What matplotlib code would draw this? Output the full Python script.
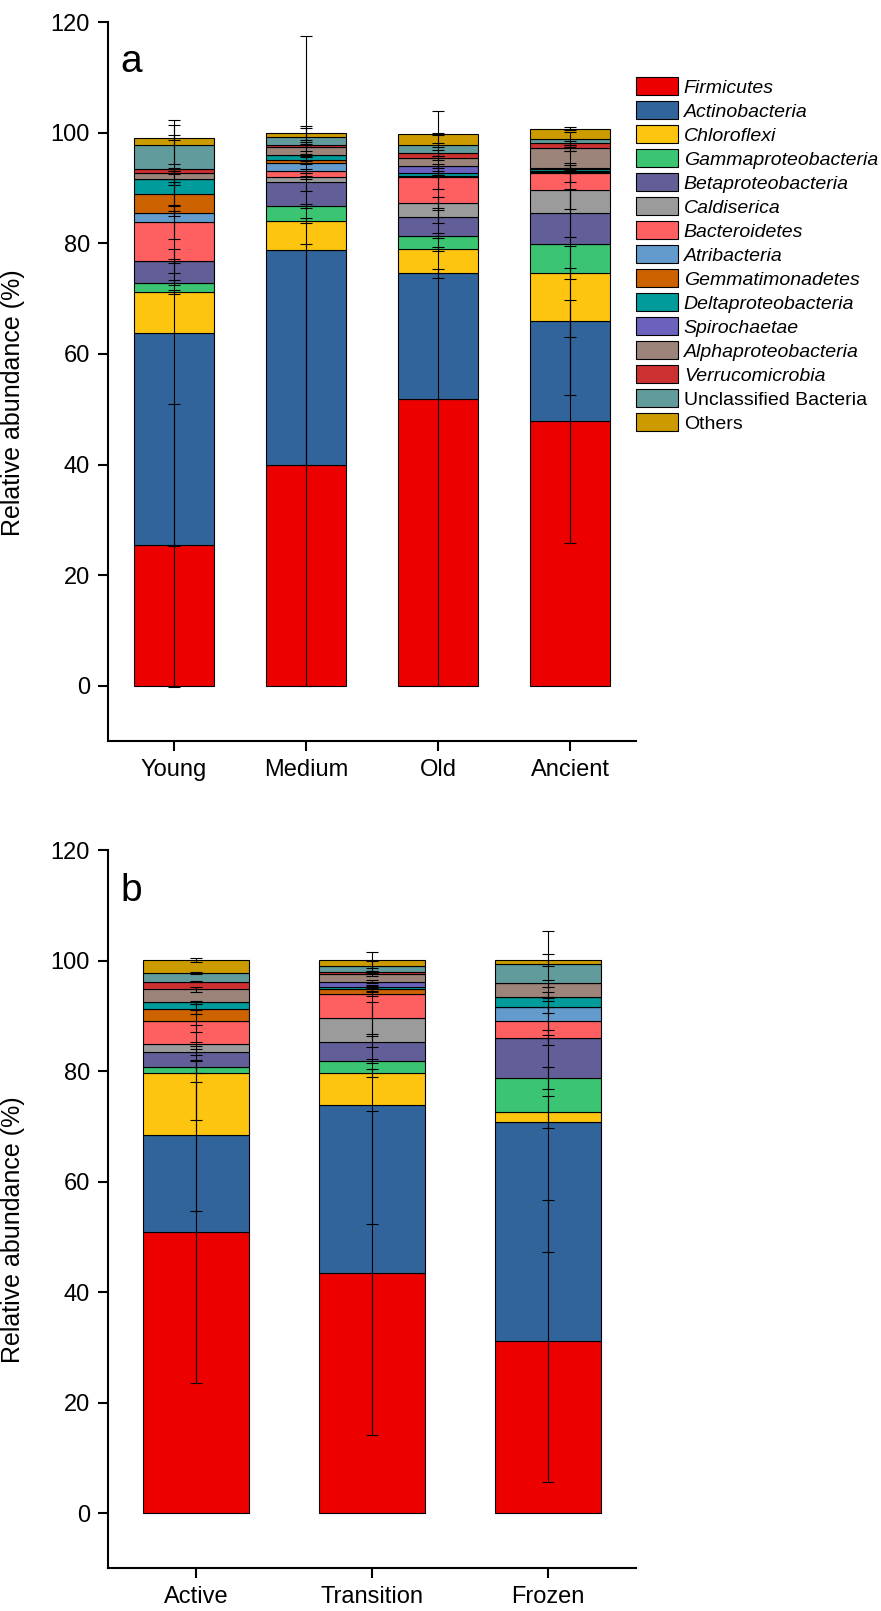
import numpy as np
import matplotlib
matplotlib.use('Agg')
import matplotlib.pyplot as plt

plt.rcParams['font.family'] = 'Liberation Sans'

# taxa, bottom of the stack first
phyla = ['Firmicutes', 'Actinobacteria', 'Chloroflexi', 'Gammaproteobacteria',
         'Betaproteobacteria', 'Caldiserica', 'Bacteroidetes', 'Atribacteria',
         'Gemmatimonadetes', 'Deltaproteobacteria', 'Spirochaetae',
         'Alphaproteobacteria', 'Verrucomicrobia', 'Unclassified Bacteria', 'Others']
colors = ['#ec0000', '#31649b', '#fdc50f', '#3bc572', '#625f98', '#9b9b9b',
          '#fe6061', '#629bcc', '#cc6200', '#009b9b', '#6a62bc', '#9c847a',
          '#cc3131', '#629b9b', '#cc9b00']

# (a) permafrost age groups: mean relative abundance (%), one row per taxon
age_groups = ['Young', 'Medium', 'Old', 'Ancient']
age_abund = [
    [25.4, 39.9, 51.9, 47.8],
    [38.4, 38.8, 22.7, 18.2],
    [7.4, 5.4, 4.4, 8.6],
    [1.7, 2.6, 2.4, 5.3],
    [3.9, 4.4, 3.4, 5.6],
    [0.0, 0.8, 2.5, 4.2],
    [7.1, 1.2, 4.6, 3.1],
    [1.5, 1.5, 0.2, 0.1],
    [3.5, 0.5, 0.1, 0.1],
    [2.7, 0.8, 0.5, 0.5],
    [0.0, 0.1, 1.3, 0.1],
    [1.2, 1.5, 1.4, 3.6],
    [0.6, 0.2, 0.9, 0.9],
    [4.4, 1.6, 1.5, 0.7],
    [1.3, 0.6, 2.0, 1.9],
]
age_sd = [
    [25.6, 39.9, 52.0, 21.9],
    [38.5, 38.8, 0.8, 13.5],
    [0.4, 0.4, 0.4, 1.0],
    [0.4, 0.4, 0.4, 16.8],
    [2.2, 1.6, 1.2, 4.3],
    [0.3, 0.2, 1.0, 3.5],
    [3.1, 0.3, 2.0, 1.8],
    [0.4, 0.3, 0.1, 0.1],
    [2.1, 0.6, 0.1, 0.1],
    [1.1, 0.3, 0.3, 0.7],
    [0.0, 0.0, 0.3, 0.1],
    [0.3, 0.9, 0.3, 0.5],
    [0.3, 0.2, 0.6, 0.4],
    [3.5, 1.5, 0.4, 1.4],
    [0.5, 1.3, 0.2, 0.3],
]

# (b) active layer / transition zone / permafrost
states = ['Active', 'Transition', 'Frozen']
state_abund = [
    [50.8, 43.5, 31.1],
    [17.6, 30.4, 39.7],
    [11.3, 5.8, 1.8],
    [1.0, 2.2, 6.1],
    [2.8, 3.4, 7.4],
    [1.4, 4.3, 0.0],
    [4.2, 4.4, 3.0],
    [0.0, 0.0, 2.5],
    [2.2, 0.8, 0.0],
    [1.2, 0.5, 1.8],
    [0.0, 0.9, 0.0],
    [2.3, 1.4, 2.5],
    [1.4, 0.3, 0.0],
    [1.6, 1.2, 3.5],
    [2.3, 1.0, 0.8],
]
state_sd = [
    [27.2, 29.3, 25.5],
    [13.7, 21.5, 23.5],
    [8.6, 0.7, 2.9],
    [1.1, 0.4, 2.0],
    [0.6, 1.0, 1.3],
    [0.4, 2.9, 0.0],
    [2.0, 0.4, 2.6],
    [0.0, 0.0, 1.1],
    [0.9, 0.3, 0.0],
    [0.3, 0.3, 0.1],
    [0.0, 0.3, 0.0],
    [0.4, 0.4, 0.7],
    [0.1, 0.2, 0.0],
    [0.2, 0.9, 5.9],
    [0.4, 1.4, 1.1],
]


def plot_stacked(ax, groups, abund, sd, tag):
    abund = np.array(abund)
    sd = np.array(sd)
    x = np.arange(1, len(groups) + 1)
    bottom = np.zeros(len(groups))
    handles = []
    for i, name in enumerate(phyla):
        b = ax.bar(x, abund[i], 0.6, bottom=bottom, color=colors[i],
                   edgecolor='black', linewidth=0.8, label=name, zorder=2)
        handles.append(b)
        bottom = bottom + abund[i]
        # each layer gets its own error bar at the top of the stack so far
        keep = sd[i] > 0
        ax.errorbar(x[keep], bottom[keep], yerr=sd[i][keep], fmt='none',
                    ecolor='black', elinewidth=0.8, capsize=4.3,
                    capthick=0.8, zorder=3)

    ax.set_xlim(0.5, len(groups) + 0.5)
    ax.set_ylim(-10, 120)
    ax.set_yticks(range(0, 121, 20))
    ax.set_xticks(x)
    ax.set_xticklabels(groups)
    ax.spines[['top', 'right']].set_visible(False)
    ax.spines[['left', 'bottom']].set_linewidth(1.5)
    ax.tick_params(direction='out', length=7, width=1.5, labelsize=17, pad=6)
    ax.set_ylabel('Relative abundance (%)', fontsize=18)
    ax.yaxis.set_label_coords(-0.157, 0.471)
    ax.text(0.023, 0.93, tag, transform=ax.transAxes, fontsize=28)
    return handles


fig = plt.figure(figsize=(8.81, 16.11), dpi=100)
ax_a = fig.add_axes([0.1226, 0.540, 0.5993, 0.4463])
ax_b = fig.add_axes([0.1226, 0.0265, 0.5993, 0.4457])

handles = plot_stacked(ax_a, age_groups, age_abund, age_sd, 'a')
plot_stacked(ax_b, states, state_abund, state_sd, 'b')

leg = fig.legend(handles, phyla, loc='upper left',
                 bbox_to_anchor=(636 / 881, 1 - 77 / 1611), frameon=False,
                 fontsize=14, handlelength=2.16, handleheight=1.03,
                 handletextpad=0.3, labelspacing=0.23, borderpad=0,
                 borderaxespad=0)
for t in leg.get_texts()[:13]:
    t.set_fontstyle('italic')

fig.savefig('out.png', dpi=100)
